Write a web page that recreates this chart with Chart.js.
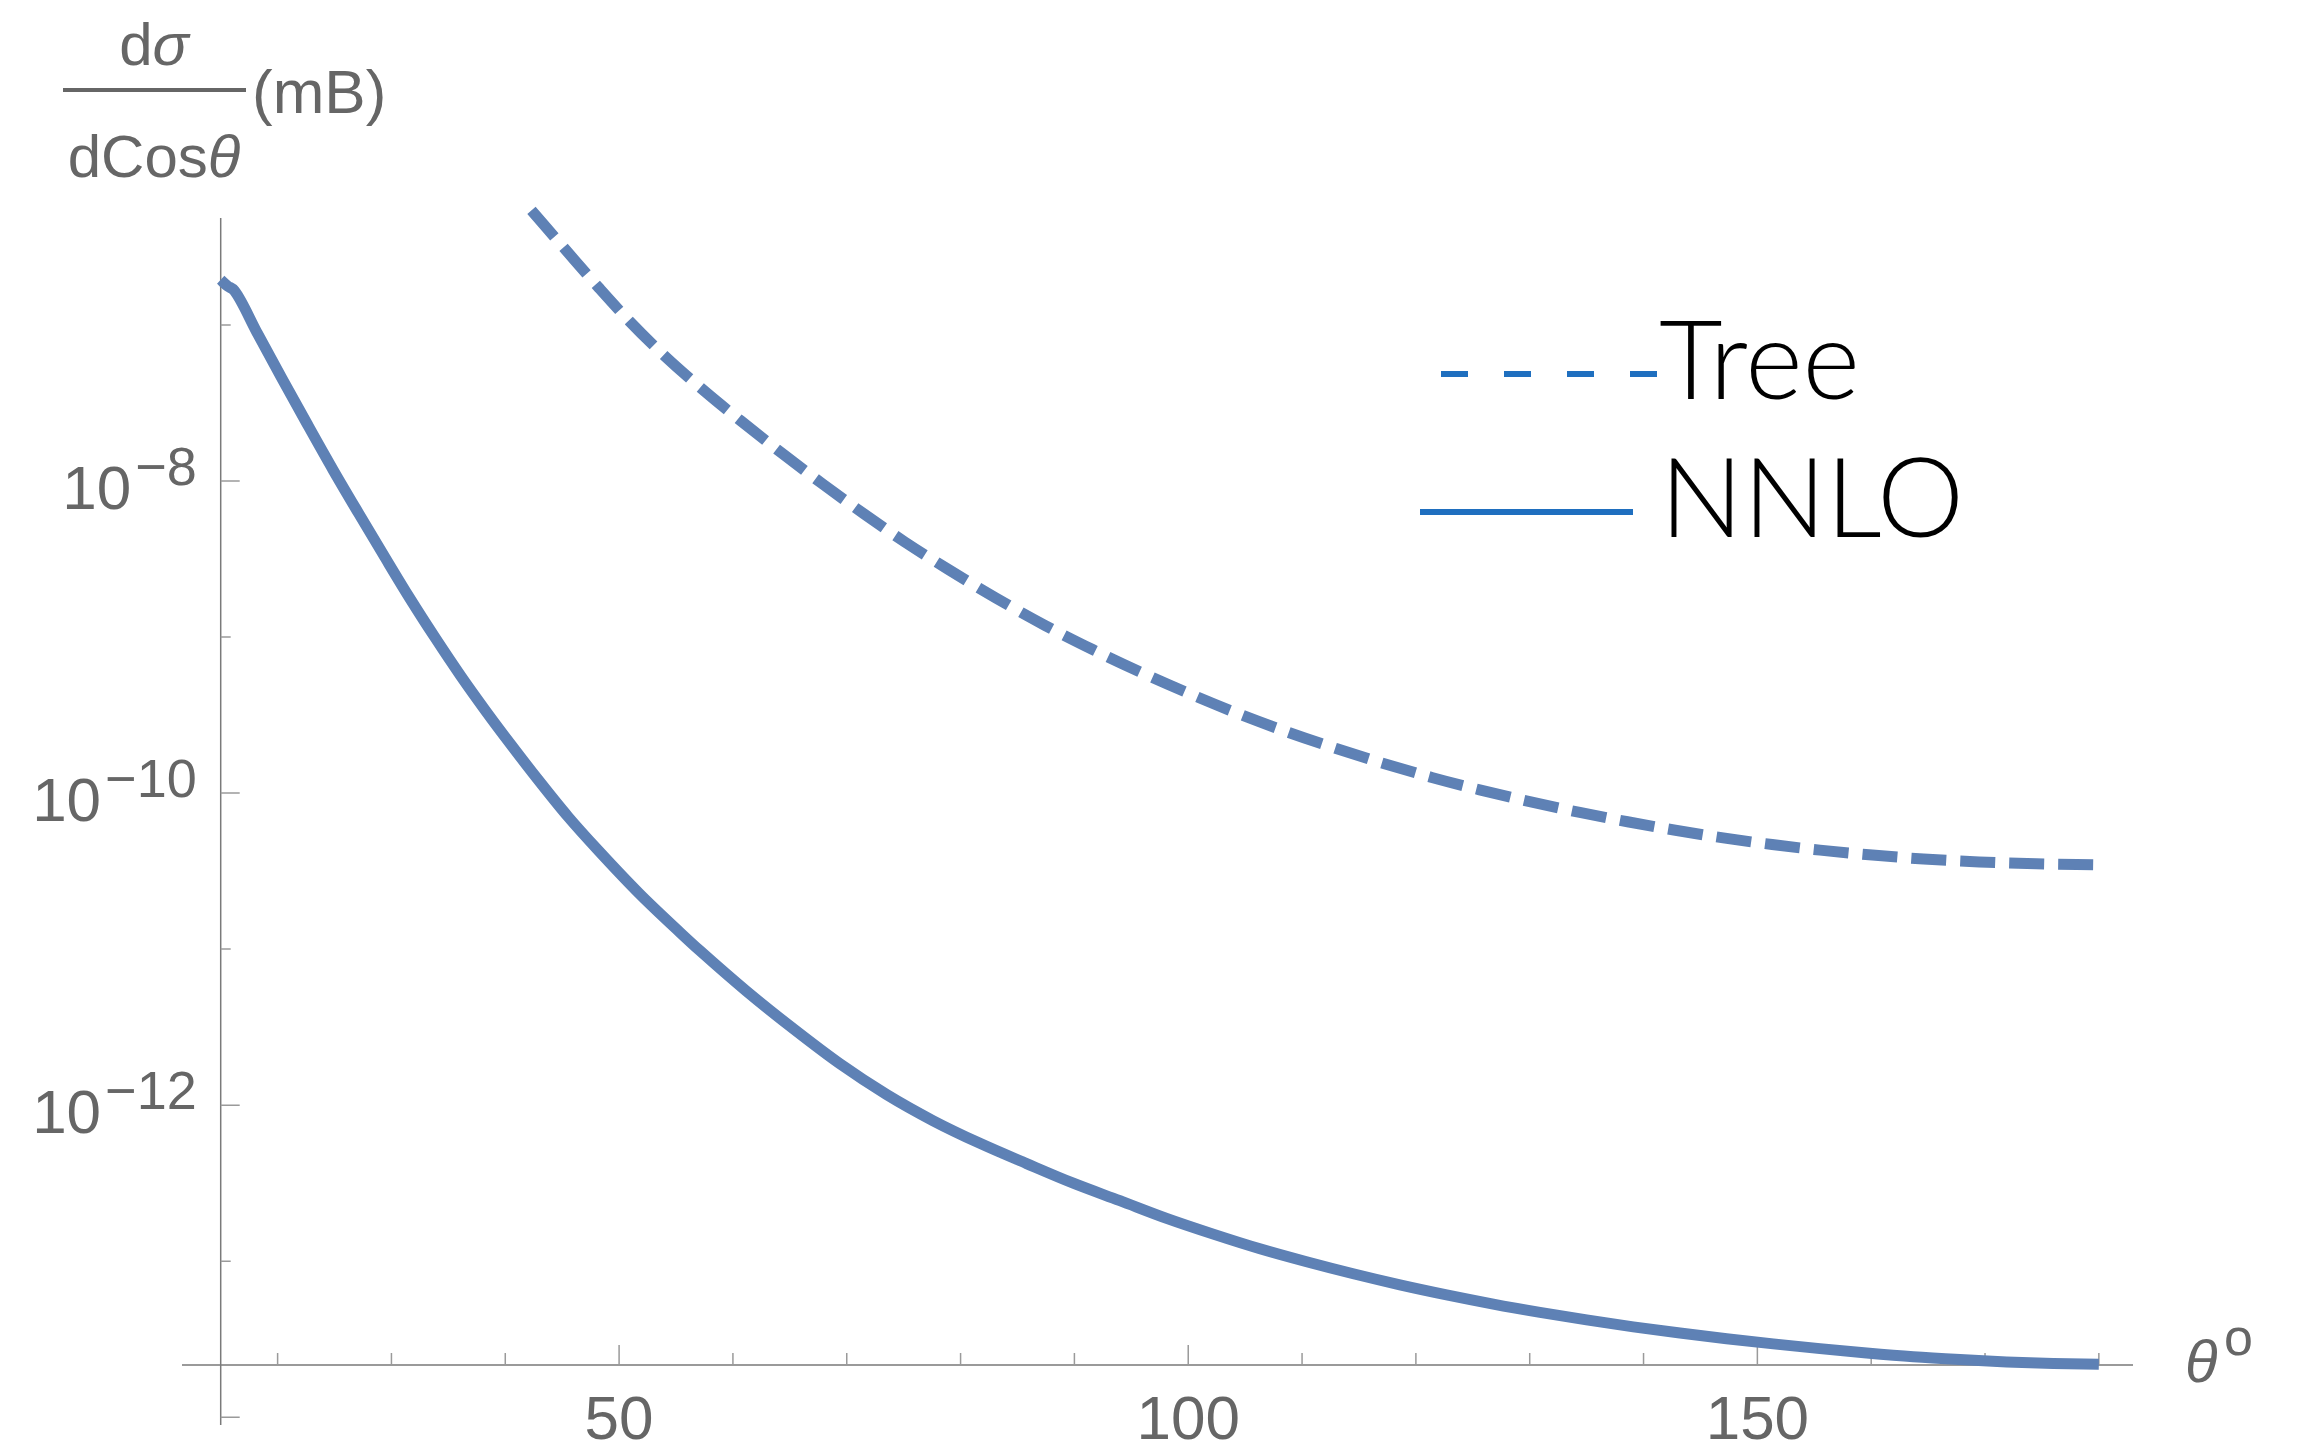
<!DOCTYPE html>
<html>
<head>
<meta charset="utf-8">
<title>dσ/dCosθ vs θ</title>
<script src="https://cdn.jsdelivr.net/npm/chart.js@4.4.1/dist/chart.umd.min.js"></script>
<style>
  html, body { margin: 0; padding: 0; background: #fff; }
  canvas { display: block; }
</style>
</head>
<body>
<canvas id="sigmaChart" width="2304" height="1441"></canvas>
<script>
// NNLO curve (solid), theta in degrees, dsigma/dcos in mB
var nnloTheta = [15, 15.6, 16.2, 18.2, 20.4, 22.6, 24.9, 27.1, 29.4, 31.6, 33.8, 36.1, 38.3, 40.6, 42.8,
                 45.5, 48.2, 51.8, 55.4, 57.1, 61.2, 65.3, 69.4, 73.5, 77.6, 81.7, 85.8, 89.9, 94.0, 98.1,
                 102.2, 106.3, 110.4, 114.5, 118.6, 122.7, 126.8, 130.9, 135.0, 139.1, 143.2, 147.3, 151.4,
                 155.5, 159.6, 163.7, 167.8, 171.9, 176.0, 180];
var nnloValue = [1.95e-7, 1.78e-7, 1.66e-7, 8.91e-8, 4.52e-8, 2.32e-8, 1.17e-8, 6.24e-9, 3.27e-9, 1.78e-9,
                 1.00e-9, 5.62e-10, 3.35e-10, 2.00e-10, 1.24e-10, 7.08e-11, 4.27e-11, 2.26e-11, 1.27e-11,
                 9.77e-12, 5.37e-12, 3.09e-12, 1.84e-12, 1.17e-12, 7.94e-13, 5.69e-13, 4.22e-13, 3.16e-13,
                 2.44e-13, 1.88e-13, 1.49e-13, 1.20e-13, 9.91e-14, 8.30e-14, 7.05e-14, 6.08e-14, 5.31e-14,
                 4.70e-14, 4.20e-14, 3.79e-14, 3.46e-14, 3.18e-14, 2.95e-14, 2.75e-14, 2.58e-14, 2.44e-14,
                 2.34e-14, 2.26e-14, 2.21e-14, 2.18e-14];

// Tree curve (dashed)
var treeTheta = [42.3, 45.5, 48.2, 50.9, 54.1, 57.6, 60.7, 64.3, 67.9, 71.5, 75.1, 78.9, 83.1, 87.4, 91.6, 95.8,
                 100.0, 104.2, 108.4, 113.0, 116.9, 121.4, 125.6, 130.2, 134.4, 138.6, 142.8, 147.0, 151.3,
                 155.5, 160.1, 164.6, 169.5, 174.5, 179.5];
var treeValue = [5.43e-7, 2.92e-7, 1.74e-7, 1.06e-7, 6.24e-8, 3.72e-8, 2.43e-8, 1.51e-8, 9.55e-9, 6.17e-9, 4.07e-9,
                 2.72e-9, 1.78e-9, 1.19e-9, 8.32e-10, 5.96e-10, 4.37e-10, 3.27e-10, 2.51e-10, 1.93e-10,
                 1.57e-10, 1.26e-10, 1.05e-10, 8.75e-11, 7.52e-11, 6.55e-11, 5.78e-11, 5.16e-11, 4.68e-11,
                 4.31e-11, 4.01e-11, 3.78e-11, 3.62e-11, 3.52e-11, 3.47e-11];

// Axis ticks
var xMajorTicks = [50, 100, 150];
var xMinorTicks = [20, 30, 40, 60, 70, 80, 90, 110, 120, 130, 140, 160, 170, 180];
var yMajorExps = [-8, -10, -12, -14];
var yLabelExps = [-8, -10, -12];
var yMinorExps = [-7, -9, -11, -13];

// where the axes cross (Mathematica style origin)
var xCross = 15;
var yCross = 2.16e-14;

var curveColor = "#5e81b5";
var legendColor = "#1f6fbf";
var labelColor = "#666666";
var axisFont = "Liberation Sans, Arial, sans-serif";

function points(xs, ys) {
    return xs.map(function (x, i) { return { x: x, y: ys[i] }; });
}

// axes, ticks, tick labels and axis titles drawn on the library's scales
var mmaAxes = {
    id: "mmaAxes",
    beforeDatasetsDraw: function (chart) {
        var ctx = chart.ctx, xs = chart.scales.x, ys = chart.scales.y, area = chart.chartArea;
        var ax = xs.getPixelForValue(xCross);
        var ay = ys.getPixelForValue(yCross);
        ctx.save();

        ctx.strokeStyle = "#7a7a7a";
        ctx.lineWidth = 1.5;
        ctx.beginPath();
        ctx.moveTo(area.left, ay); ctx.lineTo(area.right, ay);
        ctx.moveTo(ax, area.top); ctx.lineTo(ax, area.bottom);
        ctx.stroke();

        ctx.strokeStyle = "#9a9a9a";
        ctx.beginPath();
        xMajorTicks.forEach(function (t) {
            var px = xs.getPixelForValue(t);
            ctx.moveTo(px, ay); ctx.lineTo(px, ay - 20);
        });
        xMinorTicks.forEach(function (t) {
            var px = xs.getPixelForValue(t);
            ctx.moveTo(px, ay); ctx.lineTo(px, ay - 12);
        });
        yMajorExps.forEach(function (e) {
            var py = ys.getPixelForValue(Math.pow(10, e));
            ctx.moveTo(ax, py); ctx.lineTo(ax + 19, py);
        });
        yMinorExps.forEach(function (e) {
            var py = ys.getPixelForValue(Math.pow(10, e));
            ctx.moveTo(ax, py); ctx.lineTo(ax + 10, py);
        });
        ctx.stroke();

        ctx.fillStyle = labelColor;
        ctx.textBaseline = "alphabetic";

        // x tick labels
        ctx.font = "62px " + axisFont;
        ctx.textAlign = "center";
        xMajorTicks.forEach(function (t) {
            ctx.fillText(String(t), xs.getPixelForValue(t), ay + 74);
        });

        // y tick labels 10^n
        ctx.textAlign = "right";
        yLabelExps.forEach(function (e) {
            var py = ys.getPixelForValue(Math.pow(10, e));
            var right = ax - 24;
            var expText = "\u2212" + String(-e);
            ctx.font = "54px " + axisFont;
            var w = ctx.measureText(expText).width;
            ctx.fillText(expText, right, py + 4);
            ctx.font = "62px " + axisFont;
            ctx.fillText("10", right - w - 4, py + 28);
        });

        // y axis title: dσ / dCosθ (mB)
        var fx = 154;
        ctx.textAlign = "left";
        ctx.font = "60px " + axisFont;
        var wd = ctx.measureText("d").width;
        ctx.font = "italic 60px " + axisFont;
        var ws = ctx.measureText("\u03c3").width;
        var sx = fx - (wd + ws) / 2;
        ctx.font = "60px " + axisFont;
        ctx.fillText("d", sx, 65);
        ctx.font = "italic 60px " + axisFont;
        ctx.fillText("\u03c3", sx + wd, 65);

        ctx.font = "60px " + axisFont;
        var wc = ctx.measureText("dCos").width;
        ctx.font = "italic 60px " + axisFont;
        var wt = ctx.measureText("\u03b8").width;
        var cx = fx - (wc + wt) / 2;
        ctx.font = "60px " + axisFont;
        ctx.fillText("dCos", cx, 177);
        ctx.font = "italic 60px " + axisFont;
        ctx.fillText("\u03b8", cx + wc, 177);

        ctx.fillRect(63, 88, 183, 4);
        ctx.font = "62px " + axisFont;
        ctx.fillText("(mB)", 252, 113);

        // x axis title θ^o
        ctx.font = "italic 60px " + axisFont;
        ctx.fillText("\u03b8", 2185, 1382);
        ctx.font = "52px " + axisFont;
        ctx.fillText("o", 2224, 1355);

        ctx.restore();
    }
};

// legend in the upper right, as in the original figure
var mmaLegend = {
    id: "mmaLegend",
    afterDatasetsDraw: function (chart) {
        var ctx = chart.ctx;
        ctx.save();
        ctx.strokeStyle = legendColor;
        ctx.lineWidth = 6;
        ctx.setLineDash([27, 36]);
        ctx.beginPath(); ctx.moveTo(1441, 374); ctx.lineTo(1660, 374); ctx.stroke();
        ctx.setLineDash([]);
        ctx.beginPath(); ctx.moveTo(1420, 512); ctx.lineTo(1633, 512); ctx.stroke();

        ctx.fillStyle = "#000";
        ctx.textAlign = "left";
        ctx.textBaseline = "alphabetic";
        ctx.font = "300 110px Lato, sans-serif";
        ctx.fillText("Tree", 1659, 399);
        ctx.fillText("NNLO", 1660, 537);
        ctx.restore();
    }
};

new Chart("sigmaChart", {
    type: "line",
    data: {
        datasets: [{
            label: "Tree",
            data: points(treeTheta, treeValue),
            borderColor: curveColor,
            borderWidth: 11,
            borderDash: [35, 14],
            borderCapStyle: "butt",
            pointRadius: 0,
            cubicInterpolationMode: "monotone",
            clip: false
        }, {
            label: "NNLO",
            data: points(nnloTheta, nnloValue),
            borderColor: curveColor,
            borderWidth: 11,
            borderCapStyle: "butt",
            pointRadius: 0,
            cubicInterpolationMode: "monotone",
            clip: false
        }]
    },
    options: {
        responsive: false,
        animation: false,
        devicePixelRatio: 1,
        layout: { padding: { left: 182, right: 171, top: 218, bottom: 16 } },
        plugins: {
            legend: { display: false },
            title: { display: false },
            tooltip: { enabled: false }
        },
        scales: {
            x: { type: "linear", min: 11.6, max: 183.0, display: false },
            y: { type: "logarithmic", min: 8.91e-15, max: 4.853e-7, display: false }
        }
    },
    plugins: [mmaAxes, mmaLegend]
});
</script>
</body>
</html>
